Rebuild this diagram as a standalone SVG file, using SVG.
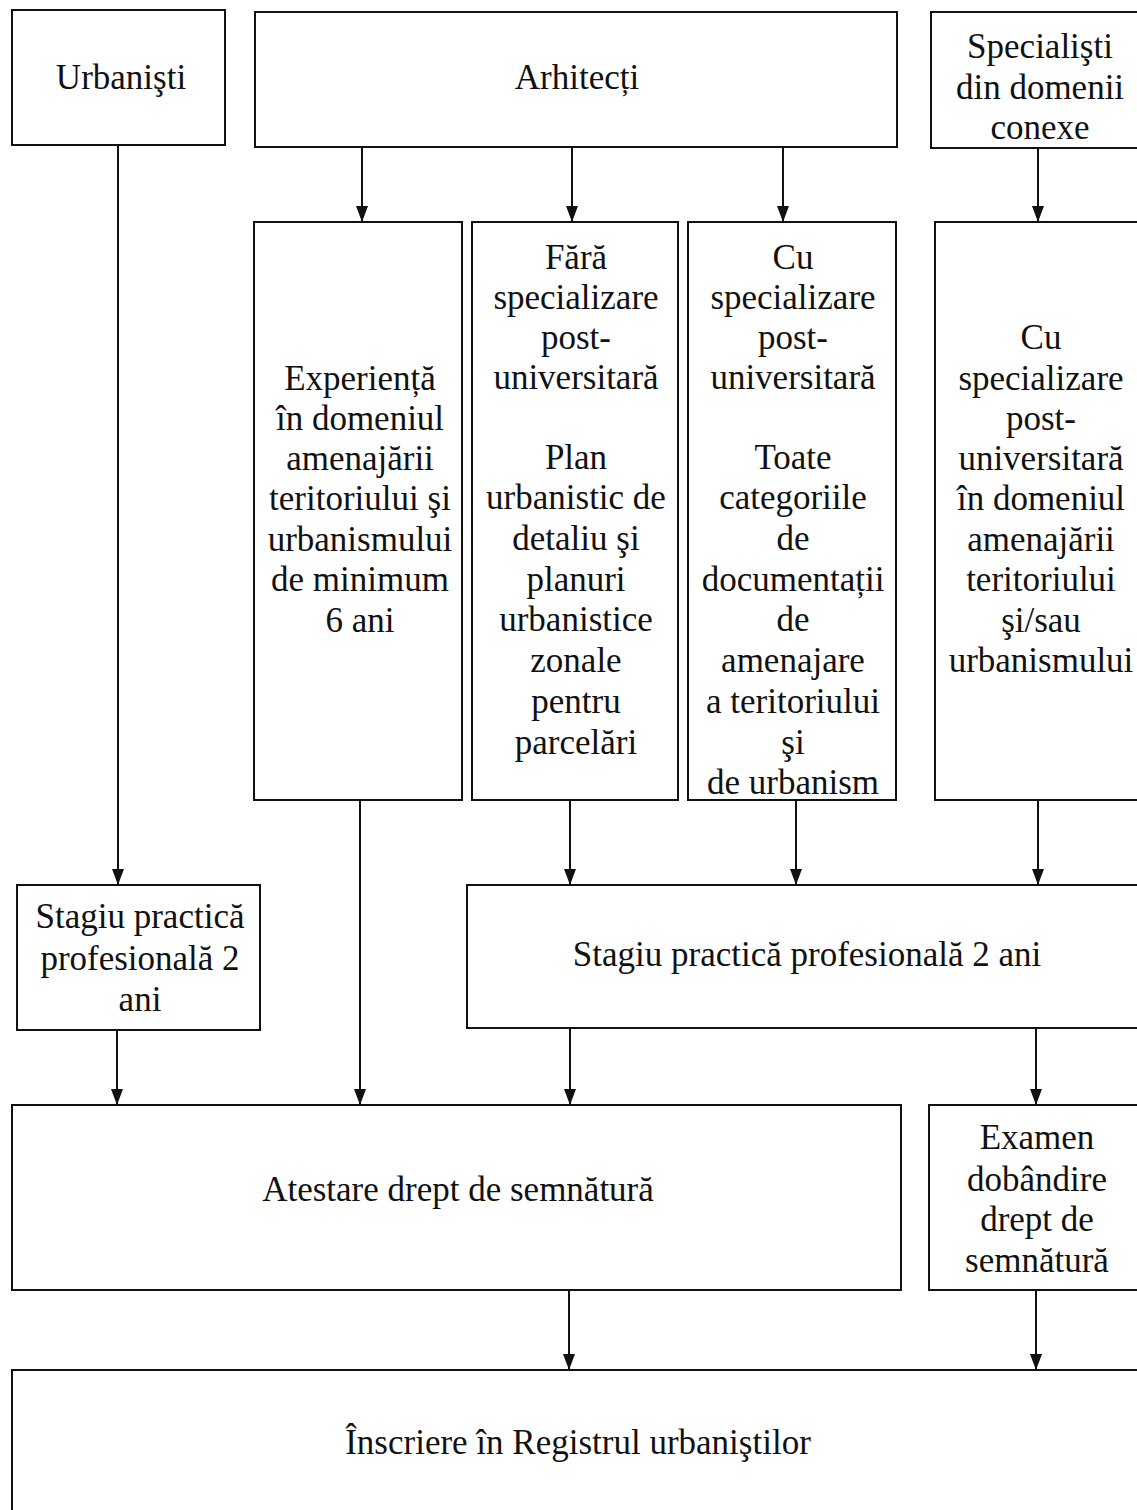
<svg xmlns="http://www.w3.org/2000/svg" width="1137" height="1510" viewBox="0 0 1137 1510">
<style>
rect{fill:#fff;stroke:#111;stroke-width:2}
text{font-family:"Liberation Serif","Times New Roman",serif;font-size:35px;fill:#111;text-anchor:middle}
.w{font-size:35px}
.c line{stroke:#111;stroke-width:2;marker-end:url(#ah)}
</style>
<defs>
<marker id="ah" viewBox="0 0 16 12" refX="16" refY="6" markerUnits="userSpaceOnUse" markerWidth="16" markerHeight="12" orient="auto">
<path d="M0,0 L16,6 L0,12 z" fill="#111"/>
</marker>
</defs>
<g class="c" id="connectors">
<line x1="118" y1="145" x2="118" y2="885"/>
<line x1="362" y1="147" x2="362" y2="222"/>
<line x1="572" y1="147" x2="572" y2="222"/>
<line x1="783" y1="147" x2="783" y2="222"/>
<line x1="1038" y1="148" x2="1038" y2="222"/>
<line x1="360" y1="800" x2="360" y2="1105"/>
<line x1="570" y1="800" x2="570" y2="885"/>
<line x1="796" y1="800" x2="796" y2="885"/>
<line x1="1038" y1="800" x2="1038" y2="885"/>
<line x1="117" y1="1030" x2="117" y2="1105"/>
<line x1="570" y1="1028" x2="570" y2="1105"/>
<line x1="1036" y1="1028" x2="1036" y2="1105"/>
<line x1="569" y1="1290" x2="569" y2="1370"/>
<line x1="1036" y1="1290" x2="1036" y2="1370"/>
</g>
<g id="urbanisti"><rect x="12" y="10" width="213" height="135"/><text x="121" y="89">Urbanişti</text></g>
<g id="arhitecti"><rect x="255" y="12" width="642" height="135"/><text x="577" y="89">Arhitecți</text></g>
<g id="specialisti"><rect x="931" y="12" width="220" height="136"/>
<text x="1040" y="58">Specialişti</text><text x="1040" y="99">din domenii</text><text x="1040" y="139">conexe</text></g>
<g id="experienta"><rect x="254" y="222" width="208" height="578"/>
<text class="w" x="360" y="390">Experiență</text><text class="w" x="360" y="430">în domeniul</text><text class="w" x="360" y="470">amenajării</text><text class="w" x="360" y="510">teritoriului şi</text><text class="w" x="360" y="551">urbanismului</text><text class="w" x="360" y="591">de minimum</text><text class="w" x="360" y="632">6 ani</text></g>
<g id="fara"><rect x="472" y="222" width="206" height="578"/>
<text class="w" x="576" y="269">Fără</text><text class="w" x="576" y="309">specializare</text><text class="w" x="576" y="349">post-</text><text class="w" x="576" y="389">universitară</text>
<text class="w" x="576" y="469">Plan</text><text class="w" x="576" y="509">urbanistic de</text><text class="w" x="576" y="550">detaliu şi</text><text class="w" x="576" y="591">planuri</text><text class="w" x="576" y="631">urbanistice</text><text class="w" x="576" y="672">zonale</text><text class="w" x="576" y="713">pentru</text><text class="w" x="576" y="754">parcelări</text></g>
<g id="cu"><rect x="688" y="222" width="208" height="578"/>
<text class="w" x="793" y="269">Cu</text><text class="w" x="793" y="309">specializare</text><text class="w" x="793" y="349">post-</text><text class="w" x="793" y="389">universitară</text>
<text class="w" x="793" y="469">Toate</text><text class="w" x="793" y="509">categoriile</text><text class="w" x="793" y="550">de</text><text class="w" x="793" y="591">documentații</text><text class="w" x="793" y="631">de</text><text class="w" x="793" y="672">amenajare</text><text class="w" x="793" y="713">a teritoriului</text><text class="w" x="793" y="754">şi</text><text class="w" x="793" y="794">de urbanism</text></g>
<g id="cu2"><rect x="935" y="222" width="220" height="578"/>
<text class="w" x="1041" y="349">Cu</text><text class="w" x="1041" y="390">specializare</text><text class="w" x="1041" y="430">post-</text><text class="w" x="1041" y="470">universitară</text><text class="w" x="1041" y="510">în domeniul</text><text class="w" x="1041" y="551">amenajării</text><text class="w" x="1041" y="591">teritoriului</text><text class="w" x="1041" y="632">şi/sau</text><text class="w" x="1041" y="672">urbanismului</text></g>
<g id="stagiu1"><rect x="17" y="885" width="243" height="145"/>
<text x="140" y="928">Stagiu practică</text><text x="140" y="970">profesională 2</text><text x="140" y="1011">ani</text></g>
<g id="stagiu2"><rect x="467" y="885" width="690" height="143"/><text x="807" y="966">Stagiu practică profesională 2 ani</text></g>
<g id="atestare"><rect x="12" y="1105" width="889" height="185"/><text x="458" y="1201">Atestare drept de semnătură</text></g>
<g id="examen"><rect x="929" y="1105" width="220" height="185"/>
<text x="1037" y="1149">Examen</text><text x="1037" y="1191">dobândire</text><text x="1037" y="1231">drept de</text><text x="1037" y="1272">semnătură</text></g>
<g id="inscriere"><rect x="12" y="1370" width="1140" height="160"/><text x="578" y="1454">Înscriere în Registrul urbaniştilor</text></g>
</svg>
